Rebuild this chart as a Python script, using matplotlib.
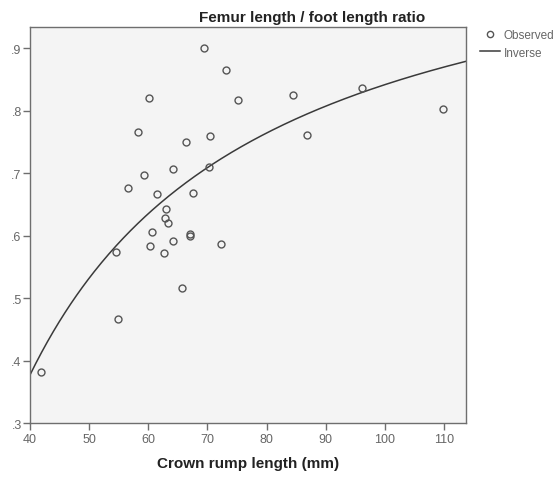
import numpy as np
import matplotlib
matplotlib.use("Agg")
import matplotlib.pyplot as plt
from matplotlib.lines import Line2D

# Data
crl = [41.9, 54.6, 54.8, 56.5, 58.2, 59.2, 60.2, 60.3, 60.7, 61.4,
       62.6, 63.0, 62.9, 63.25, 64.2, 64.15, 65.7, 66.3, 67.0, 67.1,
       67.5, 69.4, 70.3, 70.4, 72.3, 73.2, 75.1, 84.5, 86.8, 96.1, 109.8]
ratio = [0.381, 0.573, 0.467, 0.677, 0.766, 0.697, 0.820, 0.583, 0.606, 0.666,
         0.572, 0.643, 0.629, 0.620, 0.707, 0.591, 0.516, 0.750, 0.603, 0.600,
         0.669, 0.900, 0.710, 0.760, 0.586, 0.865, 0.817, 0.825, 0.761, 0.836, 0.803]
# Inverse model y = b0 + b1 / x
b0 = 1.1515
b1 = -30.98

x_ticks = [40, 50, 60, 70, 80, 90, 100, 110]
y_ticks = [0.3, 0.4, 0.5, 0.6, 0.7, 0.8, 0.9]
y_tick_labels = [".3", ".4", ".5", ".6", ".7", ".8", ".9"]

plt.rcParams['font.family'] = ['Liberation Sans', 'DejaVu Sans']

fig = plt.figure(figsize=(5.6, 4.81), dpi=100)
ax = fig.add_axes([0.0536, 0.1185, 0.832 - 0.0536, 0.9418 - 0.1185])
ax.set_facecolor('#f4f4f4')

xmin, xmax = 40, 113.7
ax.set_xlim(xmin, xmax)
ax.set_ylim(0.3, 0.934)

xs = np.linspace(xmin, xmax, 300)
ax.plot(xs, b0 + b1 / xs, color='#3a3a3a', lw=1.1, zorder=2)
ax.plot(crl, ratio, linestyle='none', marker='o', markersize=5,
        markerfacecolor='none', markeredgecolor='#555555', markeredgewidth=1.0, zorder=3)

for s in ax.spines.values():
    s.set_color('#6e6e6e')
    s.set_linewidth(1.0)

ax.set_xticks(x_ticks)
ax.set_yticks(y_ticks)
ax.set_yticklabels(y_tick_labels)
ax.tick_params(axis='both', direction='out', length=5, width=1, color='#6e6e6e',
               labelcolor='#666666', labelsize=9, pad=1)
ax.tick_params(axis='x', pad=2)

ax.set_xlabel('Crown rump length (mm)', fontsize=11, fontweight='bold', color='#222222', labelpad=8)
fig.text(0.557, 0.963, 'Femur length / foot length ratio', fontsize=11, fontweight='bold',
         color='#222222', ha='center', va='center')

handles = [Line2D([], [], linestyle='none', marker='o', markersize=4.5, markerfacecolor='none',
                  markeredgecolor='#555555', markeredgewidth=1.0),
           Line2D([], [], color='#3a3a3a', lw=1.1)]
fig.legend(handles, ['Observed', 'Inverse'], loc='upper left', bbox_to_anchor=(0.857, 0.937),
           frameon=False, fontsize=8.5, labelcolor='#666666', handlelength=1.7,
           handletextpad=0.3, labelspacing=0.45, borderaxespad=0, borderpad=0)

fig.savefig('out.png', dpi=100, facecolor='white')
